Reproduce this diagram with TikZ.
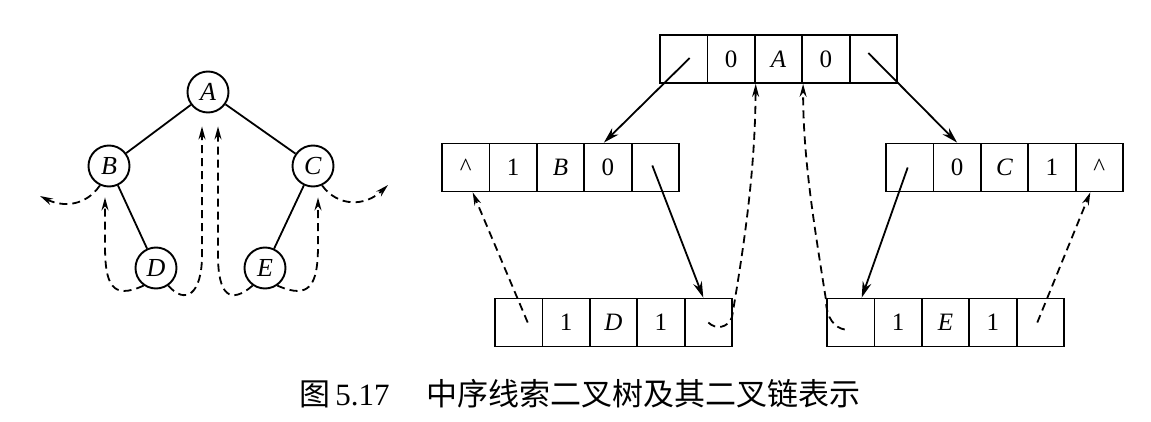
\documentclass[tikz,border=0pt]{standalone}
\usepackage{fontspec}
\setmainfont{Liberation Serif}
\newfontfamily\cjk{Noto Sans CJK SC}
\usetikzlibrary{arrows.meta,calc}
\begin{document}
\begin{tikzpicture}[x=1pt,y=-1pt,
  every node/.style={font=\fontsize{26}{28}\selectfont},
  tnode/.style={circle,draw,line width=1.9pt,minimum size=41pt,inner sep=0pt},
  edge/.style={line width=1.8pt},
  cell/.style={draw,line width=1.8pt,minimum width=47.4pt,minimum height=48pt,inner sep=0pt,font=\fontsize{25}{27}\selectfont},
  link/.style={line width=1.8pt,-{Stealth[length=16pt,width=9pt]}},
  thread/.style={line width=1.8pt,dash pattern=on 8pt off 5pt,-{Stealth[length=13pt,width=7pt]}}]
\useasboundingbox (0,0) rectangle (1151,422);
% tree
\node[tnode] (A) at (208,92) {\textit{A}};
\node[tnode] (B) at (109,166) {\textit{B}};
\node[tnode] (C) at (313,166) {\textit{C}};
\node[tnode] (D) at (156,268) {\textit{D}};
\node[tnode] (E) at (265,268) {\textit{E}};
\draw[edge] (A) -- (B);
\draw[edge] (A) -- (C);
\draw[edge] (B) -- (D);
\draw[edge] (C) -- (E);
\coordinate (Lend) at (40,196);
\coordinate (Rend) at (388,185);
\draw[thread] (B.245) .. controls (85,207) and (62,207) .. (Lend);
\draw[thread] (C.295) .. controls (338,207) and (365,207) .. (Rend);
\draw[thread] (D.235) .. controls (112,300) and (105,285) .. (105,245) -- ($(B.south)+(-4,10)$);
\draw[thread] (D.305) .. controls (185,305) and (202,295) .. (202,255) -- ($(A.south)+(-6,13)$);
\draw[thread] (E.235) .. controls (230,305) and (218,295) .. (218,255) -- ($(A.south)+(10,13)$);
\draw[thread] (E.305) .. controls (310,300) and (318,285) .. (318,245) -- ($(C.south)+(5,10)$);
% lists
\foreach \t [count=\i] in {{}, 0, \textit{A}, 0, {}}
  \node[cell] (A\i) at ({660+23.7+(\i-1)*47.4}, 59) {\t};
\foreach \t [count=\i] in {\textasciicircum, 1, \textit{B}, 0, {}}
  \node[cell] (B\i) at ({442+23.7+(\i-1)*47.4}, 167.5) {\t};
\foreach \t [count=\i] in {{}, 0, \textit{C}, 1, \textasciicircum}
  \node[cell] (C\i) at ({886+23.7+(\i-1)*47.4}, 167.5) {\t};
\foreach \t [count=\i] in {{}, 1, \textit{D}, 1, {}}
  \node[cell] (D\i) at ({495+23.7+(\i-1)*47.4}, 322.5) {\t};
\foreach \t [count=\i] in {{}, 1, \textit{E}, 1, {}}
  \node[cell] (E\i) at ({827+23.7+(\i-1)*47.4}, 322.5) {\t};
% child links
\draw[link] ($(A1.center)+(6,-1)$) -- ($(B4.north)+(-4,0)$);
\draw[link] ($(A5.center)+(-5,-6)$) -- (C2.north);
\draw[link] ($(B5.center)+(-3,-2)$) -- ($(D5.north)+(-5,0)$);
\draw[link] ($(C1.center)+(-2,0)$) -- ($(E1.north)+(11,0)$);
% threads
\draw[thread] ($(D1.center)+(9,0)$) -- ($(B1.south)+(7,0)$);
\draw[thread] ($(D5.center)+(0,0)$) .. controls (716,330) and (728,328) .. (732,317) .. controls (745,240) and (755,170) .. (A2.south east);
\draw[thread] ($(E1.center)+(-6,7)$) .. controls (835,328) and (826,318) .. (826,300) .. controls (815,230) and (803,160) .. (A3.south east);
\draw[thread] ($(E5.center)+(-3,0)$) -- ($(C5.south)+(-9,0)$);
% caption
\node[anchor=west,inner sep=0pt,font=\fontsize{31}{33}\selectfont] (cap1) at (299,394) {{\cjk 图}\,5.17};
\node[anchor=west,inner sep=0pt,font=\fontsize{31}{33}\selectfont] (cap2) at (426,394) {\cjk 中序线索二叉树及其二叉链表示};
\end{tikzpicture}
\end{document}
